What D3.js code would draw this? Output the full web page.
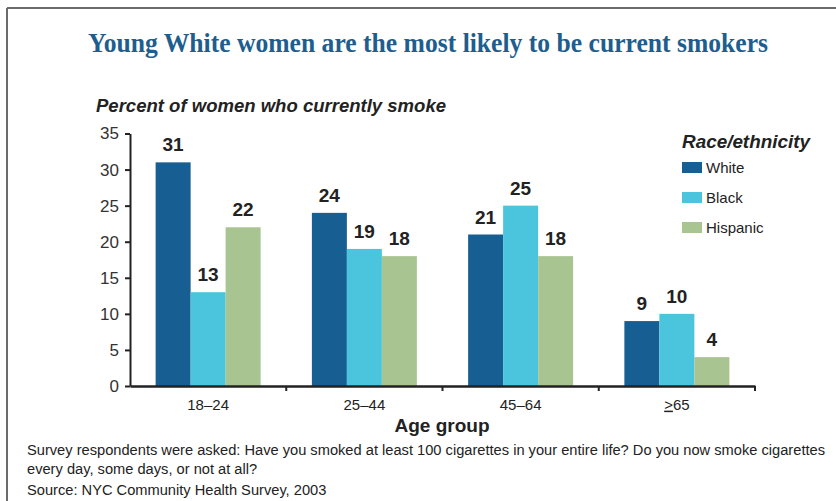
<!DOCTYPE html>
<html>
<head>
<meta charset="utf-8">
<script src="https://cdn.jsdelivr.net/npm/d3@7"></script>
<style>
  html, body { margin: 0; padding: 0; background: #fff; }
  svg { display: block; }
</style>
</head>
<body>
<svg id="chart" width="836" height="501"></svg>
<script>
// ---- data ----
const categories = ["18–24", "25–44", "45–64", "≥65"];
const seriesNames = ["White", "Black", "Hispanic"];
const white = [31, 24, 21, 9];
const black = [13, 19, 25, 10];
const hispanic = [22, 18, 18, 4];
const yTicks = [0, 5, 10, 15, 20, 25, 30, 35];
const titleText = "Young White women are the most likely to be current smokers";
const yTitleText = "Percent of women who currently smoke";
const xTitleText = "Age group";
const legendTitle = "Race/ethnicity";
const notes = [
  "Survey respondents were asked: Have you smoked at least 100 cigarettes in your entire life? Do you now smoke cigarettes",
  "every day, some days, or not at all?",
  "Source: NYC Community Health Survey, 2003"
];

const colors = { White: "#175f93", Black: "#4bc4dd", Hispanic: "#a8c491" };
const values = { White: white, Black: black, Hispanic: hispanic };

const svg = d3.select("#chart");
const sans = "'Liberation Sans', Arial, Helvetica, sans-serif";

// frame
svg.append("line").attr("x1", 7).attr("x2", 836).attr("y1", 8).attr("y2", 8)
  .attr("stroke", "#6b6b6b").attr("stroke-width", 2);
svg.append("line").attr("x1", 7).attr("x2", 7).attr("y1", 8).attr("y2", 501)
  .attr("stroke", "#6b6b6b").attr("stroke-width", 2);

// helper: set text to a given width
function fit(sel, targetW) {
  sel.attr("textLength", targetW).attr("lengthAdjust", "spacingAndGlyphs");
}

// title
const title = svg.append("text")
  .attr("x", 428).attr("y", 52)
  .attr("text-anchor", "middle")
  .attr("font-family", "'Liberation Serif', 'DejaVu Serif', serif")
  .attr("font-weight", "bold")
  .attr("font-size", 27)
  .attr("fill", "#1d5e8f")
  .text(titleText);
fit(title, 680);

// y-axis title
const yt = svg.append("text")
  .attr("x", 96).attr("y", 112)
  .attr("font-family", sans)
  .attr("font-weight", "bold")
  .attr("font-style", "italic")
  .attr("font-size", 17.5)
  .attr("fill", "#222")
  .text(yTitleText);
fit(yt, 350);

// scales
const x = d3.scaleBand().domain(categories).range([130, 755]).paddingInner(0).paddingOuter(0);
const x1 = d3.scaleBand().domain(seriesNames).range([0, x.bandwidth()])
  .paddingInner(0).paddingOuter((x.bandwidth() / 35 - 3) / 2);
const y = d3.scaleLinear().domain([0, 35]).range([386, 133.5]);

// bars
const groups = svg.append("g").selectAll("g")
  .data(categories)
  .join("g")
  .attr("transform", d => `translate(${x(d)},0)`);

groups.selectAll("rect")
  .data((c, i) => seriesNames.map(s => ({ s, v: values[s][i] })))
  .join("rect")
  .attr("x", d => x1(d.s))
  .attr("width", x1.bandwidth())
  .attr("y", d => y(d.v))
  .attr("height", d => y(0) - y(d.v) + 1)
  .attr("fill", d => colors[d.s]);

groups.selectAll("text.val")
  .data((c, i) => seriesNames.map(s => ({ s, v: values[s][i] })))
  .join("text")
  .attr("class", "val")
  .attr("x", d => x1(d.s) + x1.bandwidth() / 2)
  .attr("y", d => y(d.v) - 11)
  .attr("text-anchor", "middle")
  .attr("font-family", sans)
  .attr("font-weight", "bold")
  .attr("font-size", 19)
  .attr("fill", "#222")
  .text(d => d.v);

// y axis
const yAxis = svg.append("g")
  .attr("transform", `translate(${x.range()[0]},0)`)
  .call(d3.axisLeft(y).tickValues(yTicks).tickSize(5).tickPadding(6).tickSizeOuter(0));
yAxis.select(".domain").attr("stroke", "#222").attr("stroke-width", 2);
yAxis.selectAll(".tick line").attr("stroke", "#222").attr("stroke-width", 2);
yAxis.selectAll(".tick text")
  .attr("font-family", sans).attr("font-size", 17).attr("fill", "#333");

// x axis line + boundary ticks
const xAxis = svg.append("g")
  .attr("transform", `translate(0,${y(0)})`)
  .call(d3.axisBottom(x).tickSize(0).tickPadding(13).tickSizeOuter(0));
xAxis.select(".domain").attr("stroke", "#222").attr("stroke-width", 2.5);
xAxis.selectAll(".tick text")
  .attr("font-family", sans).attr("font-size", 15).attr("fill", "#222");
// underline the ">" for ≥65
xAxis.selectAll(".tick text").filter(d => d === "≥65").each(function () {
  const t = d3.select(this);
  t.text(null);
  t.append("tspan").attr("text-decoration", "underline").text(">");
  t.append("tspan").text("65");
});
xAxis.selectAll("line.boundary")
  .data(categories.slice(1).map(c => x(c)).concat([x.range()[1]]))
  .join("line")
  .attr("class", "boundary")
  .attr("x1", d => d).attr("x2", d => d)
  .attr("y1", 0).attr("y2", 5)
  .attr("stroke", "#222").attr("stroke-width", 2);

// x title
svg.append("text")
  .attr("x", 442).attr("y", 432)
  .attr("text-anchor", "middle")
  .attr("font-family", sans)
  .attr("font-weight", "bold")
  .attr("font-size", 19)
  .attr("fill", "#222")
  .text(xTitleText);

// legend
const lt = svg.append("text")
  .attr("x", 682).attr("y", 148)
  .attr("font-family", sans)
  .attr("font-weight", "bold")
  .attr("font-style", "italic")
  .attr("font-size", 17.5)
  .attr("fill", "#222")
  .text(legendTitle);
fit(lt, 128);

const leg = svg.append("g").selectAll("g")
  .data(seriesNames)
  .join("g")
  .attr("transform", (d, i) => `translate(682,${162 + i * 30})`);
leg.append("rect").attr("width", 20).attr("height", 11).attr("fill", d => colors[d]);
leg.append("text")
  .attr("x", 24).attr("y", 11)
  .attr("font-family", sans)
  .attr("font-size", 15)
  .attr("fill", "#222")
  .text(d => d);

// notes
const noteSel = svg.append("g").selectAll("text")
  .data(notes)
  .join("text")
  .attr("x", 27)
  .attr("y", (d, i) => [455, 474, 495][i])
  .attr("font-family", sans)
  .attr("font-size", 14)
  .attr("fill", "#222")
  .text(d => d);
const first = noteSel.filter((d, i) => i === 0);
const ratio = 798 / first.node().getComputedTextLength();
noteSel.each(function () {
  const s = d3.select(this);
  const w = s.node().getComputedTextLength();
  fit(s, w * ratio);
});
</script>
</body>
</html>
